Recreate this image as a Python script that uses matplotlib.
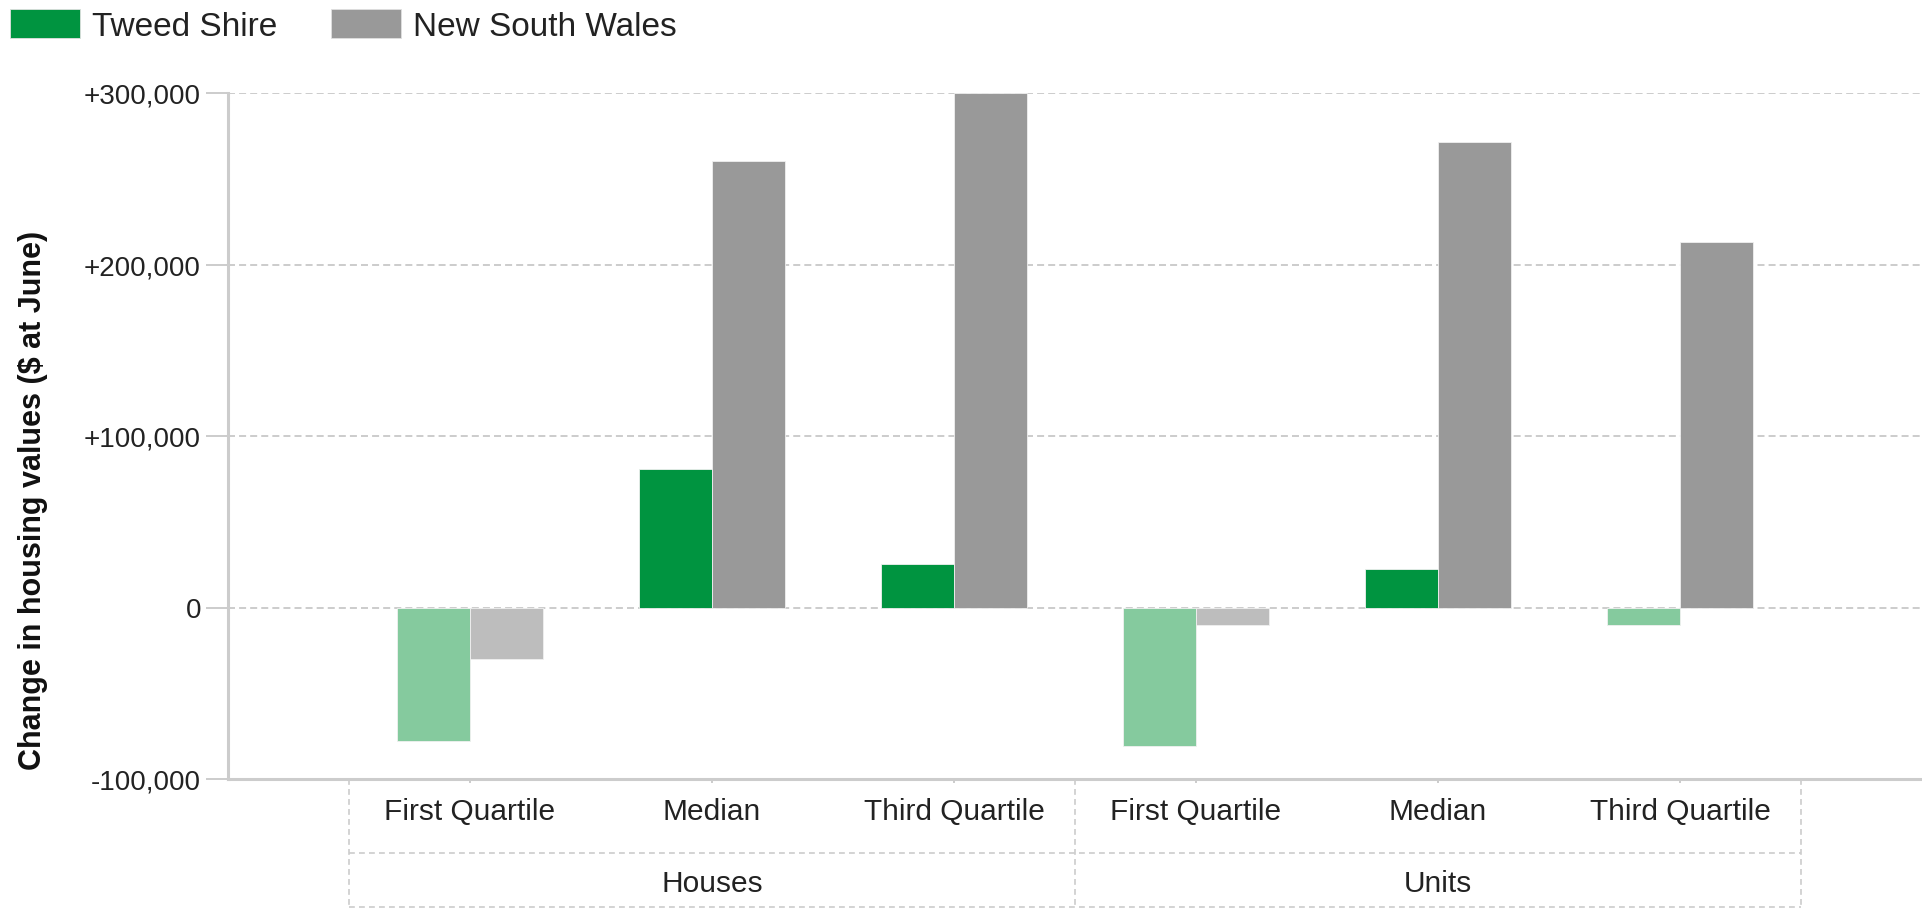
import matplotlib
matplotlib.use("Agg")
import matplotlib.pyplot as plt
from matplotlib.patches import Patch

# values (change in $ at June)
categories = ["First Quartile", "Median", "Third Quartile",
              "First Quartile", "Median", "Third Quartile"]
groups = ["Houses", "Units"]
tweed = [-78000, 81000, 25500, -80500, 22500, -10000]
nsw = [-30000, 260500, 300000, -10000, 271500, 213000]
yticks = [-100000, 0, 100000, 200000, 300000]
ytick_labels = ["-100,000", "0", "+100,000", "+200,000", "+300,000"]

GREEN, GREEN_NEG = "#009440", "#85CA9E"
GREY, GREY_NEG = "#999999", "#BDBDBD"
LINE = "#cccccc"

plt.rcParams["font.family"] = ["Liberation Sans", "DejaVu Sans"]

fig = plt.figure(figsize=(19.22, 9.12), dpi=100)
ax = fig.add_axes([228 / 1922, 132 / 912, 1694 / 1922, 686 / 912])

x = list(range(len(categories)))
w = 0.3
ax.bar(x, tweed, width=-w, align="edge",
       color=[GREEN if v >= 0 else GREEN_NEG for v in tweed],
       edgecolor="#f0f0f0", linewidth=0.6, zorder=3)
ax.bar(x, nsw, width=w, align="edge",
       color=[GREY if v >= 0 else GREY_NEG for v in nsw],
       edgecolor="#f0f0f0", linewidth=0.6, zorder=3)

ax.set_xlim(-1, 6)
ax.set_ylim(-100000, 300000)
ax.set_yticks(yticks, ytick_labels)
ax.tick_params(axis="y", length=16, width=1.4, color=LINE, pad=3.5,
               labelsize=20, labelcolor="#222222")
ax.set_xticks(x, [""] * len(x))
ax.tick_params(axis="x", length=3, width=1.4, color=LINE)

for y in yticks[1:]:
    ax.axhline(y, color=LINE, lw=1.4, ls=(0, (3.6, 2.1)), zorder=1)

for s in ("top", "right"):
    ax.spines[s].set_visible(False)
for s in ("left", "bottom"):
    ax.spines[s].set_color(LINE)
    ax.spines[s].set_linewidth(2.2)

ax.set_ylabel("Change in housing values ($ at June)", fontsize=22,
              fontweight="bold", color="#111111")
ax.yaxis.set_label_coords(-180 / 1694, 0.407)

# two-level category labels below the axis
trans = ax.get_xaxis_transform()
h = 686
for xi, lab in zip(x, categories):
    ax.text(xi, -40 / h, lab, transform=trans, ha="center", va="baseline",
            fontsize=21.5, color="#222222")
for gi, lab in enumerate(groups):
    ax.text(gi * 3 + 1, -112 / h, lab, transform=trans, ha="center",
            va="baseline", fontsize=21.5, color="#222222")

dash = (0, (3.5, 2.5))
y_mid, y_bot = -74 / h, -128 / h
for bx in (-0.5, 2.5, 5.5):
    ax.plot([bx, bx], [0, y_bot], transform=trans, color=LINE, lw=1.2,
            ls=dash, clip_on=False)
for yy in (y_mid, y_bot):
    ax.plot([-0.5, 5.5], [yy, yy], transform=trans, color=LINE, lw=1.2,
            ls=dash, clip_on=False)

handles = [Patch(facecolor=GREEN, edgecolor="#e0e0e0", linewidth=0.6),
           Patch(facecolor=GREY, edgecolor="#e0e0e0", linewidth=0.6)]
fig.legend(handles, ["Tweed Shire", "New South Wales"], loc="upper left",
           bbox_to_anchor=(10 / 1922, 1 - 10 / 912), ncol=2, frameon=False,
           fontsize=24, handlelength=2.1, handleheight=0.95,
           handletextpad=0.36, columnspacing=1.6, borderpad=0,
           borderaxespad=0, labelcolor="#222222")

fig.savefig("out.png", dpi=100)
